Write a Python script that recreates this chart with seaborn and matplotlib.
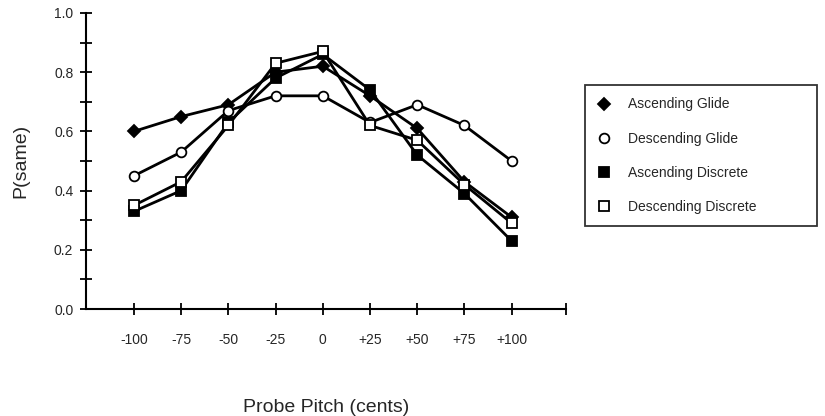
import matplotlib
matplotlib.use('Agg')
import matplotlib.pyplot as plt
from matplotlib.lines import Line2D
import numpy as np
import pandas as pd
import seaborn as sns

probe = ['-100', '-75', '-50', '-25', '0', '+25', '+50', '+75', '+100']
asc_glide = [0.60, 0.65, 0.69, 0.80, 0.82, 0.72, 0.61, 0.43, 0.31]
desc_glide = [0.45, 0.53, 0.67, 0.72, 0.72, 0.63, 0.69, 0.62, 0.50]
asc_discrete = [0.33, 0.40, 0.63, 0.78, 0.86, 0.74, 0.52, 0.39, 0.23]
desc_discrete = [0.35, 0.43, 0.62, 0.83, 0.87, 0.62, 0.57, 0.42, 0.29]

series = {
    'Ascending Glide': (asc_glide, 'D', 'black', 6.5),
    'Descending Glide': (desc_glide, 'o', 'white', 7),
    'Ascending Discrete': (asc_discrete, 's', 'black', 7.5),
    'Descending Discrete': (desc_discrete, 's', 'white', 7.5),
}

sns.set_style('white')
plt.rcParams['font.family'] = ['Liberation Sans', 'DejaVu Sans']

fig = plt.figure(figsize=(8.25, 4.16), dpi=100)
ax = fig.add_axes([0.104, 0.257, 0.582, 0.712])

pos = np.arange(len(probe))
handles = []
for name, (vals, mk, fc, ms) in series.items():
    df = pd.DataFrame({'x': pos, 'y': vals})
    sns.lineplot(data=df, x='x', y='y', ax=ax, color='black', linewidth=2,
                 marker=mk, markersize=ms, markerfacecolor=fc,
                 markeredgecolor='black', markeredgewidth=1.3)
    handles.append(Line2D([], [], linestyle='none', marker=mk, markersize=ms,
                          markerfacecolor=fc, markeredgecolor='black',
                          markeredgewidth=1.3, label=name))

ax.set_xlim(-1.02, 9.15)
ax.set_ylim(0, 1.0)
ax.set_xticks(list(pos) + [9.15])
ax.set_xticklabels(probe + [''])
ax.set_yticks(np.arange(0, 1.01, 0.2))
ax.set_yticklabels([f'{v:.1f}' for v in np.arange(0, 1.01, 0.2)])
ax.set_yticks(np.arange(0.1, 1.0, 0.2), minor=True)
ax.tick_params(axis='both', which='both', direction='inout', length=8,
               width=1.3, color='black', labelsize=10,
               bottom=True, left=True)
ax.tick_params(axis='x', pad=13)
ax.tick_params(axis='y', pad=5)
for side in ['top', 'right']:
    ax.spines[side].set_visible(False)
for side in ['left', 'bottom']:
    ax.spines[side].set_color('black')
    ax.spines[side].set_linewidth(1.5)

ax.set_xlabel('Probe Pitch (cents)', fontsize=14, labelpad=38)
ax.set_ylabel('P(same)', fontsize=14, labelpad=18)

leg = fig.legend(handles=handles, loc='upper left',
                 bbox_to_anchor=(0.709, 0.447, 0.281, 0.349),
                 mode='expand', frameon=True, fancybox=False,
                 edgecolor='black', fontsize=10, labelspacing=1.45,
                 handlelength=1.0, handletextpad=1.2, borderpad=0.9,
                 borderaxespad=0)
leg.get_frame().set_linewidth(1.3)

fig.savefig('out.png', dpi=100)
